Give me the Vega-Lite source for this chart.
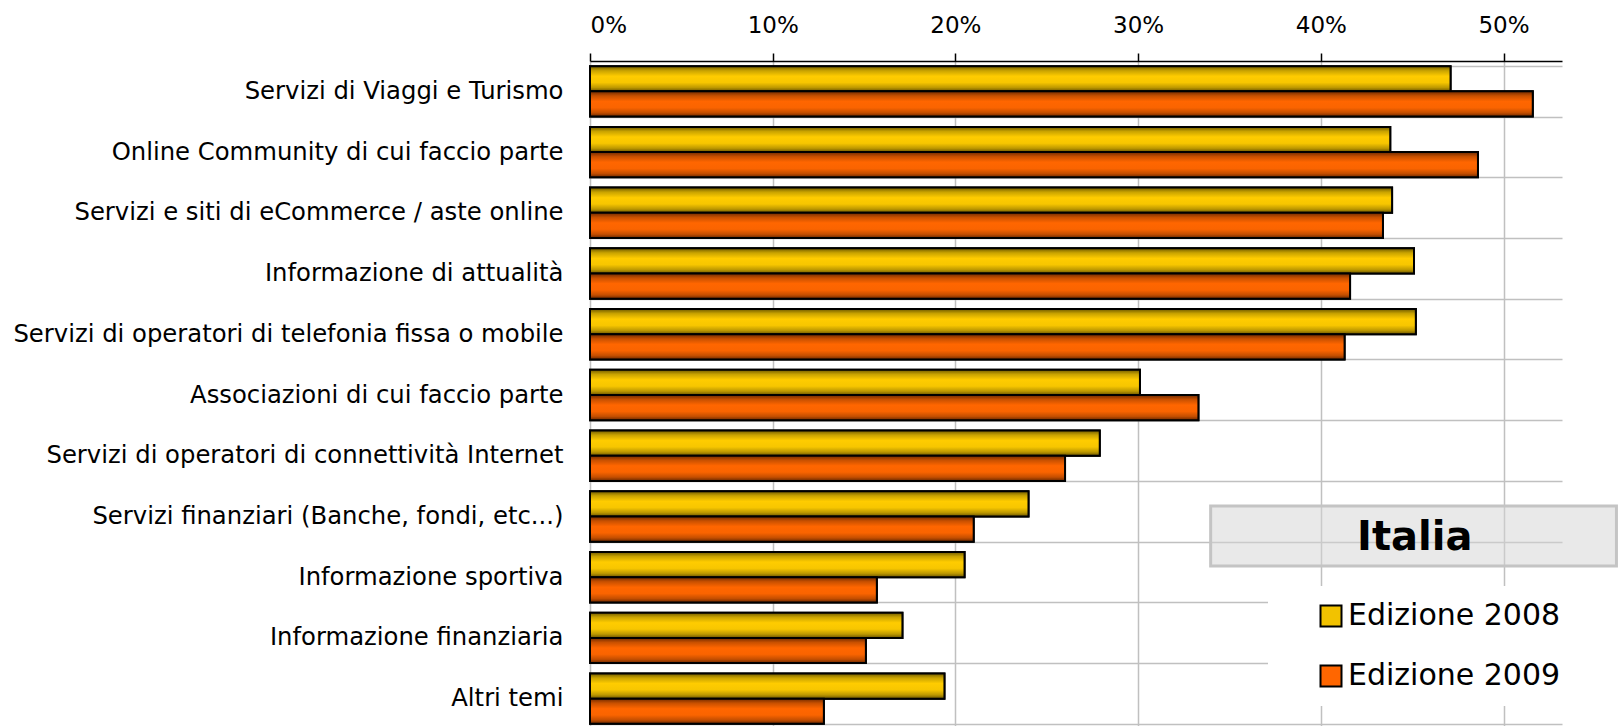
{
  "$schema": "https://vega.github.io/schema/vega-lite/v6.json",
  "width": 972,
  "height": 668,
  "autosize": {"type": "none"},
  "padding": {"left": 590, "top": 61, "right": 58, "bottom": 0},
  "background": "white",
  "datasets": {
    "main": [
      {"cat": "Servizi di Viaggi e Turismo\u00a0", "edizione": "Edizione 2008", "value": 0.471},
      {"cat": "Servizi di Viaggi e Turismo\u00a0", "edizione": "Edizione 2009", "value": 0.516},
      {"cat": "Online Community di cui faccio parte", "edizione": "Edizione 2008", "value": 0.438},
      {"cat": "Online Community di cui faccio parte", "edizione": "Edizione 2009", "value": 0.486},
      {"cat": "Servizi e siti di eCommerce / aste online", "edizione": "Edizione 2008", "value": 0.439},
      {"cat": "Servizi e siti di eCommerce / aste online", "edizione": "Edizione 2009", "value": 0.434},
      {"cat": "Informazione di attualità", "edizione": "Edizione 2008", "value": 0.451},
      {"cat": "Informazione di attualità", "edizione": "Edizione 2009", "value": 0.416},
      {"cat": "Servizi di operatori di telefonia fissa o mobile", "edizione": "Edizione 2008", "value": 0.452},
      {"cat": "Servizi di operatori di telefonia fissa o mobile", "edizione": "Edizione 2009", "value": 0.413},
      {"cat": "Associazioni di cui faccio parte", "edizione": "Edizione 2008", "value": 0.301},
      {"cat": "Associazioni di cui faccio parte", "edizione": "Edizione 2009", "value": 0.333},
      {"cat": "Servizi di operatori di connettività Internet\u00a0", "edizione": "Edizione 2008", "value": 0.279},
      {"cat": "Servizi di operatori di connettività Internet\u00a0", "edizione": "Edizione 2009", "value": 0.260},
      {"cat": "Servizi finanziari (Banche, fondi, etc...)", "edizione": "Edizione 2008", "value": 0.240},
      {"cat": "Servizi finanziari (Banche, fondi, etc...)", "edizione": "Edizione 2009", "value": 0.210},
      {"cat": "Informazione sportiva", "edizione": "Edizione 2008", "value": 0.205},
      {"cat": "Informazione sportiva", "edizione": "Edizione 2009", "value": 0.157},
      {"cat": "Informazione finanziaria", "edizione": "Edizione 2008", "value": 0.171},
      {"cat": "Informazione finanziaria", "edizione": "Edizione 2009", "value": 0.151},
      {"cat": "Altri temi", "edizione": "Edizione 2008", "value": 0.194},
      {"cat": "Altri temi", "edizione": "Edizione 2009", "value": 0.128}
    ],
    "box": [
      {"label": "Italia", "x0": 0.3397, "x1": 0.5618, "xc": 0.4514, "y0": 7.327, "y1": 8.315, "yc": 7.86}
    ]
  },
  "layer": [
    {
      "data": {"name": "main"},
      "encoding": {
        "y": {
          "field": "cat", "type": "nominal", "title": null,
          "sort": [
            "Servizi di Viaggi e Turismo\u00a0",
            "Online Community di cui faccio parte",
            "Servizi e siti di eCommerce / aste online",
            "Informazione di attualità",
            "Servizi di operatori di telefonia fissa o mobile",
            "Associazioni di cui faccio parte",
            "Servizi di operatori di connettività Internet\u00a0",
            "Servizi finanziari (Banche, fondi, etc...)",
            "Informazione sportiva",
            "Informazione finanziaria",
            "Altri temi"
          ],
          "scale": {"paddingInner": 0.17, "paddingOuter": 0.085},
          "axis": {
            "orient": "left", "grid": true, "gridColor": "#c0c0c0", "gridWidth": 1.5,
            "tickBand": "extent", "ticks": false, "tickSize": 0, "domain": false,
            "labelPadding": 27, "labelLimit": 700, "labelFontSize": 24.3,
            "labelFont": "DejaVu Sans", "labelColor": "#000000"
          }
        },
        "yOffset": {
          "field": "edizione", "type": "nominal",
          "scale": {"domain": ["Edizione 2008", "Edizione 2009"], "paddingInner": 0, "paddingOuter": 0}
        },
        "x": {
          "field": "value", "type": "quantitative", "title": null,
          "scale": {"domain": [0, 0.532], "nice": false, "zero": true},
          "axis": {"orient": "top", "format": ".0%", "values": [0, 0.1, 0.2, 0.3, 0.4, 0.5]}
        }
      },
      "layer": [
        {
          "mark": {"type": "bar", "stroke": "#000000", "strokeWidth": 2},
          "encoding": {
            "fill": {
              "field": "edizione", "type": "nominal",
              "scale": {"domain": ["Edizione 2008", "Edizione 2009"], "range": ["#f2c200", "#ff6600"]},
              "legend": {
                "title": null, "orient": "none", "legendX": 678, "legendY": 525,
                "padding": 15, "fillColor": "white", "strokeColor": null,
                "symbolType": "square", "symbolSize": 441, "symbolStrokeColor": "#000000",
                "symbolStrokeWidth": 2, "symbolOpacity": 1, "symbolOffset": 33,
                "labelFontSize": 30, "labelFont": "DejaVu Sans", "labelColor": "#000000",
                "labelOffset": 2, "labelLimit": 400, "rowPadding": 30
              }
            }
          }
        },
        {
          "transform": [{"filter": "datum.edizione === 'Edizione 2008'"}],
          "mark": {
            "type": "bar", "stroke": "#000000", "strokeWidth": 2,
            "fill": {
              "gradient": "linear", "x1": 0, "y1": 0, "x2": 0, "y2": 1,
              "stops": [
                {"offset": 0, "color": "#6f5a00"},
                {"offset": 0.18, "color": "#c9a300"},
                {"offset": 0.4, "color": "#ffcc00"},
                {"offset": 0.65, "color": "#f7c600"},
                {"offset": 0.85, "color": "#bd9800"},
                {"offset": 1, "color": "#6a5400"}
              ]
            }
          }
        },
        {
          "transform": [{"filter": "datum.edizione === 'Edizione 2009'"}],
          "mark": {
            "type": "bar", "stroke": "#000000", "strokeWidth": 2,
            "fill": {
              "gradient": "linear", "x1": 0, "y1": 0, "x2": 0, "y2": 1,
              "stops": [
                {"offset": 0, "color": "#6f2a00"},
                {"offset": 0.18, "color": "#c85000"},
                {"offset": 0.4, "color": "#ff6600"},
                {"offset": 0.65, "color": "#fa6400"},
                {"offset": 0.85, "color": "#c44e00"},
                {"offset": 1, "color": "#6a2800"}
              ]
            }
          }
        }
      ]
    },
    {
      "data": {"name": "box"},
      "encoding": {
        "x": {"field": "x0", "type": "quantitative", "title": null},
        "y": {"field": "y0", "type": "quantitative", "axis": null,
              "scale": {"domain": [0, 11], "reverse": true, "nice": false, "zero": false}}
      },
      "layer": [
        {
          "mark": {"type": "rect", "fill": "#d4d4d4", "fillOpacity": 0.5, "stroke": "#c4c4c4", "strokeWidth": 3},
          "encoding": {
            "x2": {"field": "x1"},
            "y2": {"field": "y1"}
          }
        },
        {
          "mark": {"type": "text", "font": "DejaVu Sans", "fontWeight": "bold", "fontSize": 40, "color": "#000000", "baseline": "middle", "align": "center"},
          "encoding": {
            "x": {"field": "xc", "type": "quantitative", "title": null},
            "y": {"field": "yc", "type": "quantitative", "axis": null,
                  "scale": {"domain": [0, 11], "reverse": true, "nice": false, "zero": false}},
            "text": {"field": "label"}
          }
        }
      ]
    }
  ],
  "resolve": {"scale": {"y": "independent"}, "axis": {"y": "independent"}},
  "config": {
    "view": {"stroke": null},
    "axisX": {
      "grid": true, "gridColor": "#c0c0c0", "gridWidth": 1.5,
      "domainColor": "#000000", "domainWidth": 1.5, "tickColor": "#000000", "tickWidth": 1.5, "tickSize": 8,
      "labelFontSize": 23, "labelFont": "DejaVu Sans", "labelColor": "#000000", "labelPadding": 16,
      "title": null
    }
  }
}
